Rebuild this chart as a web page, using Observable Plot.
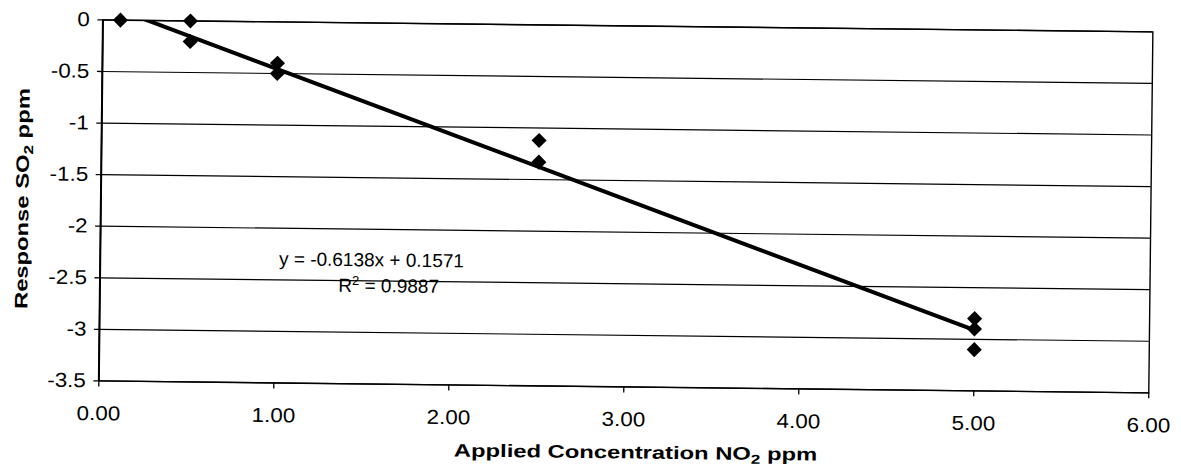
<!DOCTYPE html>
<html><head><meta charset="utf-8">
<script src="https://cdn.jsdelivr.net/npm/d3@7"></script>
<script src="https://cdn.jsdelivr.net/npm/@observablehq/plot@0.6"></script>
<style>
body{margin:0;background:#fff;overflow:hidden;}
</style>
</head><body><div id="chart"></div>
<script>
// Data
const concentrations = [0.1, 0.5, 0.5, 1.0, 1.0, 2.5, 2.5, 5.0, 5.0, 5.0];
const responses      = [0, 0, -0.2, -0.4, -0.5, -1.12, -1.33, -2.8, -2.9, -3.1];
const xTicks = [0, 1, 2, 3, 4, 5, 6];
const yTicks = [0, -0.5, -1, -1.5, -2, -2.5, -3, -3.5];
const slope = -0.6138;
const intercept = 0.1571;
const rSquared = 0.9887;
const xTitleParts = ["Applied Concentration NO", "2", " ppm"];
const yTitleParts = ["Response SO", "2", " ppm"];
const equationText = `y = ${slope}x + ${intercept}`;
const r2Parts = ["R", "2", ` = ${rSquared}`];

const points = concentrations.map((c, i) => ({x: c, y: responses[i]}));
const xExtent = d3.extent(concentrations);
const trend = xExtent.map(x => ({x, y: slope * x + intercept}));
const labels = [
  {x: 1.55, y: -2.30, text: equationText, key: "eq"},
  {x: 1.65, y: -2.55, text: r2Parts.join(""), key: "r2"}
];

const W = 1181, H = 476;
const FONT = "'Liberation Sans', Arial, sans-serif";
const plot = Plot.plot({
  width: W,
  height: H,
  marginLeft: 100,
  marginRight: 31,
  marginTop: 25,
  marginBottom: 90,
  style: {fontFamily: FONT, fontSize: "20px", color: "black", background: "white"},
  x: {domain: [0, 6], ticks: xTicks, tickFormat: d3.format(".2f"), label: null},
  y: {domain: [-3.5, 0], ticks: yTicks, tickFormat: d => String(d), label: null},
  marks: [
    Plot.gridY(yTicks, {stroke: "black", strokeOpacity: 1, strokeWidth: 1.2}),
    Plot.frame({stroke: "black", strokeWidth: 1.4}),
    Plot.ruleX([0], {stroke: "black", strokeWidth: 2}),
    Plot.axisX(xTicks, {tickSize: 6, tickPadding: 19, fontSize: 20, tickFormat: d3.format(".2f"), stroke: "black", strokeWidth: 1.3, label: null}),
    Plot.axisY(yTicks, {tickSize: 5, tickPadding: 8, fontSize: 20, tickFormat: d => String(d), stroke: "black", strokeWidth: 1.3, label: null}),
    Plot.line(trend, {x: "x", y: "y", stroke: "black", strokeWidth: 4, clip: true}),
    Plot.dot(points, {x: "x", y: "y", symbol: "diamond2", r: 6.8, fill: "black", stroke: "none"}),
    Plot.text(labels, {x: "x", y: "y", text: "text", fontSize: 19, fill: "black", textAnchor: "middle"})
  ]
});
// the scanned reference is tilted slightly clockwise
plot.style.transformOrigin = "50% 50%";
plot.style.transform = "rotate(0.65deg)";
document.getElementById("chart").appendChild(plot);

const svg = d3.select(plot);

// widen tick labels a little, as in the reference
svg.selectAll('g[aria-label$="tick label"] text').each(function() {
  const L = this.getComputedTextLength();
  this.setAttribute("textLength", (L * 1.12).toFixed(1));
  this.setAttribute("lengthAdjust", "spacingAndGlyphs");
});

// R² with a real superscript
svg.selectAll('g[aria-label="text"] text').each(function() {
  if (this.textContent === r2Parts.join("")) {
    const t = d3.select(this);
    t.text(null);
    t.append("tspan").text(r2Parts[0]);
    t.append("tspan").attr("dy", -7).attr("font-size", 13).text(r2Parts[1]);
    t.append("tspan").attr("dy", 7).text(r2Parts[2]);
  }
});

function addTitle(parts, attrs) {
  const t = svg.append("text")
    .attr("font-family", FONT)
    .attr("font-weight", "bold")
    .attr("font-size", 18)
    .attr("fill", "black")
    .attr("text-anchor", "middle");
  for (const [k, v] of Object.entries(attrs)) t.attr(k, v);
  t.append("tspan").text(parts[0]);
  t.append("tspan").attr("dy", 4).attr("font-size", 13).text(parts[1]);
  t.append("tspan").attr("dy", -4).text(parts[2]);
  const node = t.node();
  const L = node.getComputedTextLength();
  node.setAttribute("textLength", (L * 1.32).toFixed(1));
  node.setAttribute("lengthAdjust", "spacingAndGlyphs");
  return t;
}
addTitle(xTitleParts, {x: 638, y: 458});
addTitle(yTitleParts, {transform: "translate(28,205) rotate(-90)"});
</script>
</body></html>
